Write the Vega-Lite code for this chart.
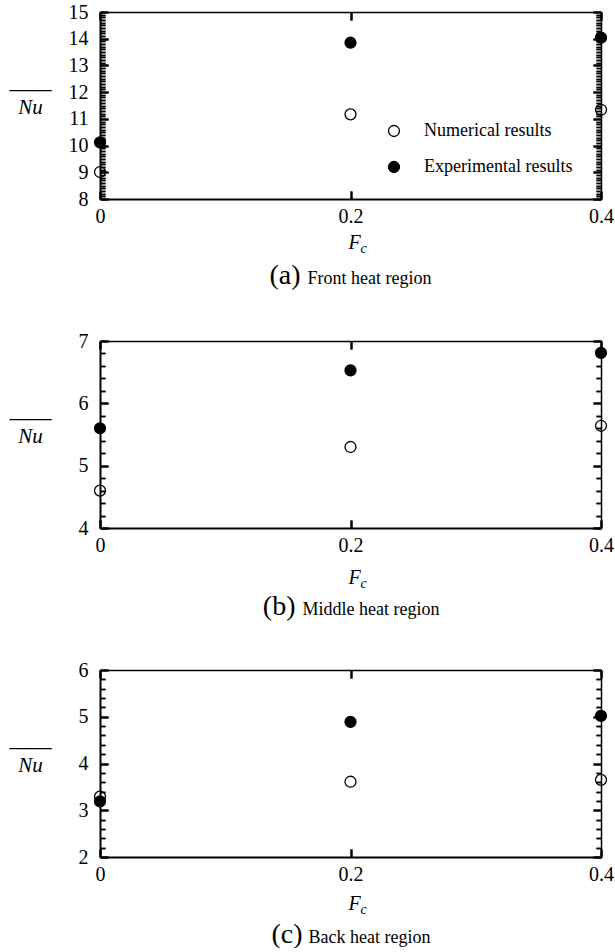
{
  "$schema": "https://vega.github.io/schema/vega-lite/v6.json",
  "padding": {"left": 9, "top": 2, "right": 5, "bottom": 0},
  "background": "white",
  "spacing": 142,
  "bounds": "flush",
  "datasets": {
    "a": [
      {"Fc": 0, "Nu": 9.01, "type": "Numerical results"},
      {"Fc": 0.2, "Nu": 11.17, "type": "Numerical results"},
      {"Fc": 0.4, "Nu": 11.34, "type": "Numerical results"},
      {"Fc": 0, "Nu": 10.12, "type": "Experimental results"},
      {"Fc": 0.2, "Nu": 13.85, "type": "Experimental results"},
      {"Fc": 0.4, "Nu": 14.04, "type": "Experimental results"}
    ],
    "b": [
      {"Fc": 0, "Nu": 4.6, "type": "Numerical results"},
      {"Fc": 0.2, "Nu": 5.3, "type": "Numerical results"},
      {"Fc": 0.4, "Nu": 5.64, "type": "Numerical results"},
      {"Fc": 0, "Nu": 5.6, "type": "Experimental results"},
      {"Fc": 0.2, "Nu": 6.53, "type": "Experimental results"},
      {"Fc": 0.4, "Nu": 6.81, "type": "Experimental results"}
    ],
    "c": [
      {"Fc": 0, "Nu": 3.29, "type": "Numerical results"},
      {"Fc": 0.2, "Nu": 3.61, "type": "Numerical results"},
      {"Fc": 0.4, "Nu": 3.65, "type": "Numerical results"},
      {"Fc": 0, "Nu": 3.19, "type": "Experimental results"},
      {"Fc": 0.2, "Nu": 4.89, "type": "Experimental results"},
      {"Fc": 0.4, "Nu": 5.02, "type": "Experimental results"}
    ]
  },
  "vconcat": [
    {
      "width": 501, "height": 187,
      "data": {"name": "a"},
      "resolve": {"axis": {"x": "independent", "y": "independent"}},
      "layer": [
        {
          "mark": {"type": "point", "shape": "circle", "filled": true, "size": 120, "stroke": "black", "strokeWidth": 1.3, "opacity": 1},
          "encoding": {
            "x": {"field": "Fc", "type": "quantitative", "scale": {"domain": [0, 0.4], "nice": false, "zero": false},
              "axis": {"orient": "bottom", "offset": -8, "values": [0, 0.2, 0.4], "format": "~g", "ticks": true, "tickSize": 8, "tickWidth": 2, "tickColor": "black", "domain": false, "labelPadding": 7, "title": null,
                "grid": true, "gridColor": "black", "gridOpacity": 1, "gridWidth": 2, "gridDash": [8, 171, 8]}},
            "y": {"field": "Nu", "type": "quantitative", "scale": {"domain": [8, 15], "nice": false, "zero": false},
              "axis": {"orient": "left", "offset": -8, "values": [8, 9, 10, 11, 12, 13, 14, 15], "ticks": true, "tickSize": 8, "tickWidth": 2, "tickColor": "black", "domain": false, "labelPadding": 12, "title": null,
                "grid": true, "gridColor": "black", "gridOpacity": 1, "gridWidth": 2, "gridDash": [8, 485, 8]}},
            "fill": {"field": "type", "type": "nominal",
              "scale": {"domain": ["Numerical results", "Experimental results"], "range": ["transparent", "black"]},
              "legend": {"orient": "none", "legendX": 285, "legendY": 110, "title": null, "padding": 0, "symbolType": "circle", "symbolSize": 120,
                "symbolStrokeColor": "black", "symbolStrokeWidth": 1.3, "labelFontSize": 18, "labelColor": "black",
                "labelOffset": 21, "rowPadding": 18}}
          }
        },
        {
          "mark": {"type": "point", "opacity": 0},
          "encoding": {
            "x": {"field": "Fc", "type": "quantitative",
              "axis": {"orient": "top", "offset": -8, "values": [0, 0.2, 0.4], "labels": false, "ticks": true, "tickSize": 8, "tickWidth": 2, "tickColor": "black", "domain": false, "title": null}},
            "y": {"field": "Nu", "type": "quantitative",
              "axis": {"orient": "right", "offset": -8, "values": [8, 9, 10, 11, 12, 13, 14, 15], "labels": false, "ticks": true, "tickSize": 8, "tickWidth": 2, "tickColor": "black", "domain": false, "title": null}}
          }
        },
        {
          "mark": {"type": "point", "opacity": 0},
          "encoding": {
            "x": {"field": "Fc", "type": "quantitative",
              "axis": {"orient": "bottom", "labels": false, "ticks": false, "domain": true, "domainWidth": 2,
                "title": "F", "titleX": 254, "titleY": 49, "titleAlign": "center", "titleBaseline": "alphabetic", "titleFontStyle": "italic", "titleFontSize": 20}},
            "y": {"field": "Nu", "type": "quantitative",
              "axis": {"orient": "left", "labels": false, "ticks": false, "domain": true, "domainWidth": 2,
                "title": ["____", "Nu"], "titleAngle": 0, "titleX": -70, "titleY": 75, "titleLineHeight": 26, "titleAlign": "center", "titleBaseline": "alphabetic", "titleFontStyle": "italic", "titleFontSize": 21}}
          }
        },
        {
          "mark": {"type": "point", "opacity": 0},
          "encoding": {
            "x": {"field": "Fc", "type": "quantitative",
              "axis": {"orient": "top", "labels": false, "ticks": false, "domain": true, "domainWidth": 1.5,
                "title": "c", "titleX": 263, "titleY": 240, "titleAlign": "center", "titleBaseline": "alphabetic", "titleFontStyle": "italic", "titleFontSize": 14}},
            "y": {"field": "Nu", "type": "quantitative",
              "axis": {"orient": "right", "labels": false, "ticks": false, "domain": true, "domainWidth": 1.5, "title": null}}
          }
        },
        {
          "mark": {"type": "point", "opacity": 0},
          "encoding": {
            "x": {"field": "Fc", "type": "quantitative",
              "axis": {"orient": "bottom", "labels": false, "ticks": false, "domain": false,
                "title": "(a)", "titleX": 200, "titleY": 84, "titleAlign": "right", "titleBaseline": "alphabetic", "titleFontSize": 28}},
            "y": {"field": "Nu", "type": "quantitative",
              "axis": {"orient": "left", "offset": -5, "values": [8.1,8.2,8.3,8.4,8.5,8.6,8.7,8.8,8.9,9.1,9.2,9.3,9.4,9.5,9.6,9.7,9.8,9.9,10.1,10.2,10.3,10.4,10.5,10.6,10.7,10.8,10.9,11.1,11.2,11.3,11.4,11.5,11.6,11.7,11.8,11.9,12.1,12.2,12.3,12.4,12.5,12.6,12.7,12.8,12.9,13.1,13.2,13.3,13.4,13.5,13.6,13.7,13.8,13.9,14.1,14.2,14.3,14.4,14.5,14.6,14.7,14.8,14.9],
                "labels": false, "domain": false, "ticks": true, "tickSize": 5, "tickWidth": 1.5, "tickColor": "black", "title": null,
                "grid": true, "gridColor": "black", "gridOpacity": 1, "gridWidth": 1.5, "gridDash": [5, 491, 5]}}
          }
        },
        {
          "mark": {"type": "point", "opacity": 0},
          "encoding": {
            "x": {"field": "Fc", "type": "quantitative",
              "axis": {"orient": "bottom", "labels": false, "ticks": false, "domain": false,
                "title": "Front heat region", "titleX": 207, "titleY": 84, "titleAlign": "left", "titleBaseline": "alphabetic", "titleFontSize": 18}},
            "y": {"field": "Nu", "type": "quantitative",
              "axis": {"orient": "right", "offset": -5, "values": [8.1,8.2,8.3,8.4,8.5,8.6,8.7,8.8,8.9,9.1,9.2,9.3,9.4,9.5,9.6,9.7,9.8,9.9,10.1,10.2,10.3,10.4,10.5,10.6,10.7,10.8,10.9,11.1,11.2,11.3,11.4,11.5,11.6,11.7,11.8,11.9,12.1,12.2,12.3,12.4,12.5,12.6,12.7,12.8,12.9,13.1,13.2,13.3,13.4,13.5,13.6,13.7,13.8,13.9,14.1,14.2,14.3,14.4,14.5,14.6,14.7,14.8,14.9],
                "labels": false, "domain": false, "ticks": true, "tickSize": 5, "tickWidth": 1.5, "tickColor": "black", "title": null}}
          }
        }
      ]
    },
    {
      "width": 501, "height": 187,
      "data": {"name": "b"},
      "resolve": {"axis": {"x": "independent", "y": "independent"}},
      "layer": [
        {
          "mark": {"type": "point", "shape": "circle", "filled": true, "size": 120, "stroke": "black", "strokeWidth": 1.3, "opacity": 1},
          "encoding": {
            "x": {"field": "Fc", "type": "quantitative", "scale": {"domain": [0, 0.4], "nice": false, "zero": false},
              "axis": {"orient": "bottom", "offset": -8, "values": [0, 0.2, 0.4], "format": "~g", "ticks": true, "tickSize": 8, "tickWidth": 2, "tickColor": "black", "domain": false, "labelPadding": 7, "title": null,
                "grid": true, "gridColor": "black", "gridOpacity": 1, "gridWidth": 2, "gridDash": [8, 171, 8]}},
            "y": {"field": "Nu", "type": "quantitative", "scale": {"domain": [4, 7], "nice": false, "zero": false},
              "axis": {"orient": "left", "offset": -8, "values": [4, 5, 6, 7], "ticks": true, "tickSize": 8, "tickWidth": 2, "tickColor": "black", "domain": false, "labelPadding": 12, "title": null,
                "grid": true, "gridColor": "black", "gridOpacity": 1, "gridWidth": 2, "gridDash": [8, 485, 8]}},
            "fill": {"field": "type", "type": "nominal",
              "scale": {"domain": ["Numerical results", "Experimental results"], "range": ["transparent", "black"]},
              "legend": null}
          }
        },
        {
          "mark": {"type": "point", "opacity": 0},
          "encoding": {
            "x": {"field": "Fc", "type": "quantitative",
              "axis": {"orient": "top", "offset": -8, "values": [0, 0.2, 0.4], "labels": false, "ticks": true, "tickSize": 8, "tickWidth": 2, "tickColor": "black", "domain": false, "title": null}},
            "y": {"field": "Nu", "type": "quantitative",
              "axis": {"orient": "right", "offset": -8, "values": [4, 5, 6, 7], "labels": false, "ticks": true, "tickSize": 8, "tickWidth": 2, "tickColor": "black", "domain": false, "title": null}}
          }
        },
        {
          "mark": {"type": "point", "opacity": 0},
          "encoding": {
            "x": {"field": "Fc", "type": "quantitative",
              "axis": {"orient": "bottom", "labels": false, "ticks": false, "domain": true, "domainWidth": 2,
                "title": "F", "titleX": 254, "titleY": 55, "titleAlign": "center", "titleBaseline": "alphabetic", "titleFontStyle": "italic", "titleFontSize": 20}},
            "y": {"field": "Nu", "type": "quantitative",
              "axis": {"orient": "left", "labels": false, "ticks": false, "domain": true, "domainWidth": 2,
                "title": ["____", "Nu"], "titleAngle": 0, "titleX": -70, "titleY": 75, "titleLineHeight": 26, "titleAlign": "center", "titleBaseline": "alphabetic", "titleFontStyle": "italic", "titleFontSize": 21}}
          }
        },
        {
          "mark": {"type": "point", "opacity": 0},
          "encoding": {
            "x": {"field": "Fc", "type": "quantitative",
              "axis": {"orient": "top", "labels": false, "ticks": false, "domain": true, "domainWidth": 1.5,
                "title": "c", "titleX": 263, "titleY": 246, "titleAlign": "center", "titleBaseline": "alphabetic", "titleFontStyle": "italic", "titleFontSize": 14}},
            "y": {"field": "Nu", "type": "quantitative",
              "axis": {"orient": "right", "labels": false, "ticks": false, "domain": true, "domainWidth": 1.5, "title": null}}
          }
        },
        {
          "mark": {"type": "point", "opacity": 0},
          "encoding": {
            "x": {"field": "Fc", "type": "quantitative",
              "axis": {"orient": "bottom", "labels": false, "ticks": false, "domain": false,
                "title": "(b)", "titleX": 195, "titleY": 86, "titleAlign": "right", "titleBaseline": "alphabetic", "titleFontSize": 28}},
            "y": {"field": "Nu", "type": "quantitative",
              "axis": {"orient": "left", "offset": -5, "values": [4.2,4.4,4.6,4.8,5.2,5.4,5.6,5.8,6.2,6.4,6.6,6.8],
                "labels": false, "domain": false, "ticks": true, "tickSize": 5, "tickWidth": 1.5, "tickColor": "black", "title": null,
                "grid": true, "gridColor": "black", "gridOpacity": 1, "gridWidth": 1.5, "gridDash": [5, 491, 5]}}
          }
        },
        {
          "mark": {"type": "point", "opacity": 0},
          "encoding": {
            "x": {"field": "Fc", "type": "quantitative",
              "axis": {"orient": "bottom", "labels": false, "ticks": false, "domain": false,
                "title": "Middle heat region", "titleX": 202, "titleY": 86, "titleAlign": "left", "titleBaseline": "alphabetic", "titleFontSize": 18}},
            "y": {"field": "Nu", "type": "quantitative",
              "axis": {"orient": "right", "offset": -5, "values": [4.2,4.4,4.6,4.8,5.2,5.4,5.6,5.8,6.2,6.4,6.6,6.8],
                "labels": false, "domain": false, "ticks": true, "tickSize": 5, "tickWidth": 1.5, "tickColor": "black", "title": null}}
          }
        }
      ]
    },
    {
      "width": 501, "height": 187,
      "data": {"name": "c"},
      "resolve": {"axis": {"x": "independent", "y": "independent"}},
      "layer": [
        {
          "mark": {"type": "point", "shape": "circle", "filled": true, "size": 120, "stroke": "black", "strokeWidth": 1.3, "opacity": 1},
          "encoding": {
            "x": {"field": "Fc", "type": "quantitative", "scale": {"domain": [0, 0.4], "nice": false, "zero": false},
              "axis": {"orient": "bottom", "offset": -8, "values": [0, 0.2, 0.4], "format": "~g", "ticks": true, "tickSize": 8, "tickWidth": 2, "tickColor": "black", "domain": false, "labelPadding": 7, "title": null,
                "grid": true, "gridColor": "black", "gridOpacity": 1, "gridWidth": 2, "gridDash": [8, 171, 8]}},
            "y": {"field": "Nu", "type": "quantitative", "scale": {"domain": [2, 6], "nice": false, "zero": false},
              "axis": {"orient": "left", "offset": -8, "values": [2, 3, 4, 5, 6], "ticks": true, "tickSize": 8, "tickWidth": 2, "tickColor": "black", "domain": false, "labelPadding": 12, "title": null,
                "grid": true, "gridColor": "black", "gridOpacity": 1, "gridWidth": 2, "gridDash": [8, 485, 8]}},
            "fill": {"field": "type", "type": "nominal",
              "scale": {"domain": ["Numerical results", "Experimental results"], "range": ["transparent", "black"]},
              "legend": null}
          }
        },
        {
          "mark": {"type": "point", "opacity": 0},
          "encoding": {
            "x": {"field": "Fc", "type": "quantitative",
              "axis": {"orient": "top", "offset": -8, "values": [0, 0.2, 0.4], "labels": false, "ticks": true, "tickSize": 8, "tickWidth": 2, "tickColor": "black", "domain": false, "title": null}},
            "y": {"field": "Nu", "type": "quantitative",
              "axis": {"orient": "right", "offset": -8, "values": [2, 3, 4, 5, 6], "labels": false, "ticks": true, "tickSize": 8, "tickWidth": 2, "tickColor": "black", "domain": false, "title": null}}
          }
        },
        {
          "mark": {"type": "point", "opacity": 0},
          "encoding": {
            "x": {"field": "Fc", "type": "quantitative",
              "axis": {"orient": "bottom", "labels": false, "ticks": false, "domain": true, "domainWidth": 2,
                "title": "F", "titleX": 254, "titleY": 52, "titleAlign": "center", "titleBaseline": "alphabetic", "titleFontStyle": "italic", "titleFontSize": 20}},
            "y": {"field": "Nu", "type": "quantitative",
              "axis": {"orient": "left", "labels": false, "ticks": false, "domain": true, "domainWidth": 2,
                "title": ["____", "Nu"], "titleAngle": 0, "titleX": -70, "titleY": 75, "titleLineHeight": 26, "titleAlign": "center", "titleBaseline": "alphabetic", "titleFontStyle": "italic", "titleFontSize": 21}}
          }
        },
        {
          "mark": {"type": "point", "opacity": 0},
          "encoding": {
            "x": {"field": "Fc", "type": "quantitative",
              "axis": {"orient": "top", "labels": false, "ticks": false, "domain": true, "domainWidth": 1.5,
                "title": "c", "titleX": 263, "titleY": 243, "titleAlign": "center", "titleBaseline": "alphabetic", "titleFontStyle": "italic", "titleFontSize": 14}},
            "y": {"field": "Nu", "type": "quantitative",
              "axis": {"orient": "right", "labels": false, "ticks": false, "domain": true, "domainWidth": 1.5, "title": null}}
          }
        },
        {
          "mark": {"type": "point", "opacity": 0},
          "encoding": {
            "x": {"field": "Fc", "type": "quantitative",
              "axis": {"orient": "bottom", "labels": false, "ticks": false, "domain": false,
                "title": "(c)", "titleX": 202, "titleY": 85, "titleAlign": "right", "titleBaseline": "alphabetic", "titleFontSize": 28}},
            "y": {"field": "Nu", "type": "quantitative",
              "axis": {"orient": "left", "offset": -5, "values": [2.2,2.4,2.6,2.8,3.2,3.4,3.6,3.8,4.2,4.4,4.6,4.8,5.2,5.4,5.6,5.8],
                "labels": false, "domain": false, "ticks": true, "tickSize": 5, "tickWidth": 1.5, "tickColor": "black", "title": null,
                "grid": true, "gridColor": "black", "gridOpacity": 1, "gridWidth": 1.5, "gridDash": [5, 491, 5]}}
          }
        },
        {
          "mark": {"type": "point", "opacity": 0},
          "encoding": {
            "x": {"field": "Fc", "type": "quantitative",
              "axis": {"orient": "bottom", "labels": false, "ticks": false, "domain": false,
                "title": "Back heat region", "titleX": 208, "titleY": 85, "titleAlign": "left", "titleBaseline": "alphabetic", "titleFontSize": 18}},
            "y": {"field": "Nu", "type": "quantitative",
              "axis": {"orient": "right", "offset": -5, "values": [2.2,2.4,2.6,2.8,3.2,3.4,3.6,3.8,4.2,4.4,4.6,4.8,5.2,5.4,5.6,5.8],
                "labels": false, "domain": false, "ticks": true, "tickSize": 5, "tickWidth": 1.5, "tickColor": "black", "title": null}}
          }
        }
      ]
    }
  ],
  "config": {
    "font": "Liberation Serif",
    "view": {"stroke": null},
    "axis": {
      "grid": false,
      "labelFont": "Liberation Serif", "labelFontSize": 20, "labelColor": "black",
      "labelFlush": false, "labelOverlap": false,
      "titleFont": "Liberation Serif", "titleColor": "black", "titleFontWeight": "normal",
      "domainColor": "black"
    },
    "legend": {"labelFont": "Liberation Serif"}
  }
}
